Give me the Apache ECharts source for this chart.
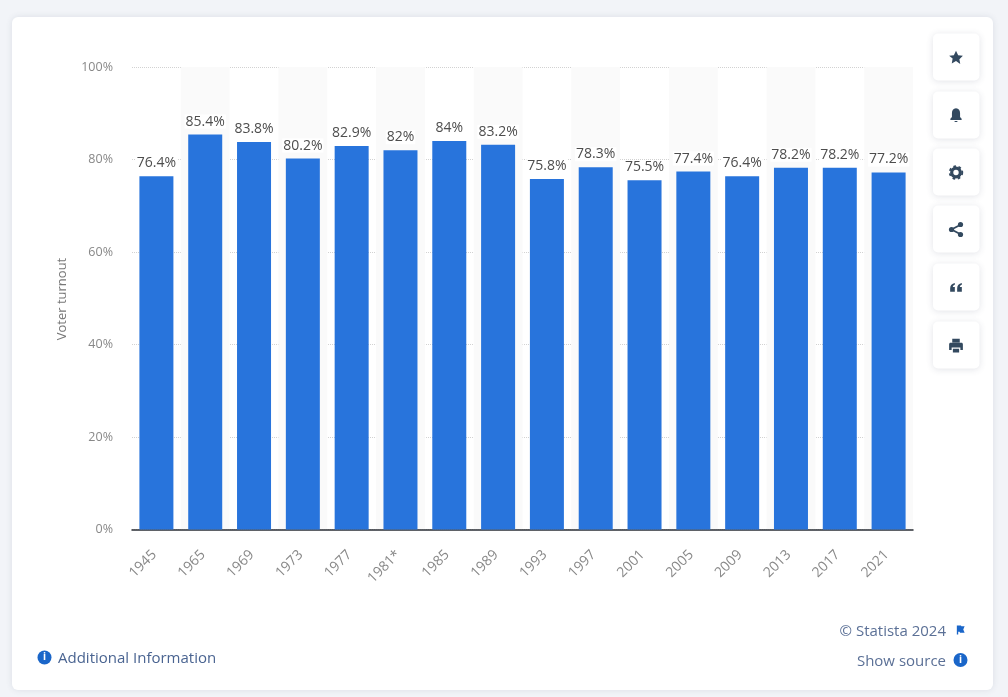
<!DOCTYPE html>
<html>
<head>
<meta charset="utf-8">
<style>html,body{margin:0;padding:0;background:#f2f4f8}#c{width:1008px;height:697px}</style>
<script src="https://cdn.jsdelivr.net/npm/echarts@6/dist/echarts.min.js"></script>
</head>
<body>
<div id="c"></div>
<script>
const years = ['1945','1965','1969','1973','1977','1981*','1985','1989','1993','1997','2001','2005','2009','2013','2017','2021'];
const turnout = [76.4,85.4,83.8,80.2,82.9,82,84,83.2,75.8,78.3,75.5,77.4,76.4,78.2,78.2,77.2];
const yTicks = [0,20,40,60,80,100];
const yTitle = 'Voter turnout';
const iconCentres = [57,115,172,229,287,345];

const ICON = '#33495f', FONT = '"Open Sans","Noto Sans",sans-serif', BLUE = '#1a66c9';
const chart = echarts.init(document.getElementById('c'), null, {renderer:'canvas'});

const shapes = {
  iconStar:'M12 1l3.400 7.200 7.600 1-5.600 5.400 1.400 7.800L12 17.700 5.200 21.400l1.400-7.800L1 9.200l7.600-1z',
  iconBell:'M12 1c4.500 0 6.500 3.500 6.500 8v6l2.500 3v2H3v-2l2.500-3V9C5.500 4.500 7.500 1 12 1zM9.500 21.500h5c0 2.500-5 2.500-5 0z',
  iconQuote:'M10 5C5 6 2 9 2 14v6h8v-8H6.500C6.800 10 8 8.800 10 8.200zM22 5c-5 1-8 4-8 9v6h8v-8h-3.500c.3-2 1.500-3.200 3.500-3.800z',
  iconPrint:'M6 1h12v6H6zM1 10c0-1.500 1-2.500 2-2.500h18c1 0 2 1 2 2.500v9h-4v-4H5v4H1zM7 17h10v6H7z',
  iconFlag:'M4 2h9l1 2h7l-3 7 3 7H11l-1-2H7v6H4z'
};
Object.keys(shapes).forEach(k => echarts.graphic.registerShape(k, echarts.graphic.extendPath(shapes[k], {})));

const back = [
  {type:'rect', silent:true, z:-10, shape:{x:12,y:17,width:981,height:673,r:6},
   style:{fill:'#fff',shadowBlur:6,shadowColor:'rgba(60,70,100,0.12)'}}
];
const btns = iconCentres.map(cy => ({type:'rect', silent:true, z:1,
  shape:{x:933,y:cy-23.5,width:46.5,height:47,r:5},
  style:{fill:'#fff',shadowBlur:7,shadowOffsetY:1,shadowColor:'rgba(50,60,90,0.14)'}}));
const p = (name,cx,cy,w,fill) => ({type:name, silent:true, z:2, x:cx-w/2, y:cy-w/2, scaleX:w/24, scaleY:w/24, style:{fill:fill||ICON}});
const cx = 956;
const icons = [
  p('iconStar',cx,57.500,15),
  p('iconBell',cx,115,15),
  {type:'circle', silent:true, z:2, shape:{cx:cx,cy:172.500,r:4.300}, style:{fill:'none',stroke:ICON,lineWidth:3.200}},
  {type:'circle', silent:true, z:2, shape:{cx:cx,cy:172.500,r:6.300}, style:{fill:'none',stroke:ICON,lineWidth:1.800,lineDash:[2.600,2.650]}},
  {type:'polyline', silent:true, z:2, shape:{points:[[961,224.500],[951.500,229.500],[961,234.500]]}, style:{fill:'none',stroke:ICON,lineWidth:1.800}},
  {type:'circle', silent:true, z:2, shape:{cx:960.500,cy:224.500,r:2.600}, style:{fill:ICON}},
  {type:'circle', silent:true, z:2, shape:{cx:951.500,cy:229.500,r:2.600}, style:{fill:ICON}},
  {type:'circle', silent:true, z:2, shape:{cx:960.500,cy:234.500,r:2.600}, style:{fill:ICON}},
  p('iconQuote',cx,287,14),
  p('iconPrint',cx,345.500,15),
];
const footer = [
  {type:'circle', silent:true, shape:{cx:44.500,cy:657.500,r:7}, style:{fill:BLUE}},
  {type:'text', silent:true, z:3, style:{x:44.500,y:657.500,text:'i',fill:'#fff',font:'bold 10px '+FONT,align:'center',verticalAlign:'middle'}},
  {type:'text', silent:true, style:{x:58,y:659,text:'Additional Information',fill:'#4a6491',font:'15px '+FONT,align:'left',verticalAlign:'middle'}},
  {type:'text', silent:true, style:{x:946,y:631.500,text:'© Statista 2024',fill:'#5b7096',font:'15px '+FONT,align:'right',verticalAlign:'middle'}},
  p('iconFlag',960.500,630,11,BLUE),
  {type:'text', silent:true, style:{x:946,y:661.500,text:'Show source',fill:'#5b7096',font:'15px '+FONT,align:'right',verticalAlign:'middle'}},
  {type:'circle', silent:true, shape:{cx:960.500,cy:660,r:7}, style:{fill:BLUE}},
  {type:'text', silent:true, z:3, style:{x:960.500,y:660,text:'i',fill:'#fff',font:'bold 10px '+FONT,align:'center',verticalAlign:'middle'}},
  {type:'text', silent:true, rotation:Math.PI/2, x:62, y:299, style:{x:0,y:0,text:yTitle,fill:'#777',font:'13px '+FONT,align:'center',verticalAlign:'middle'}}
];

chart.setOption({
  animation:false,
  backgroundColor:'#f2f4f8',
  grid:{left:132,right:95,top:67,bottom:167.5,containLabel:false},
  graphic:{elements:[...back,...btns,...icons,...footer]},
  xAxis:{
    type:'category', data:years, boundaryGap:true,
    axisLine:{show:true,lineStyle:{color:'#2b2f36',width:1.500}},
    axisTick:{show:false},
    axisLabel:{rotate:45,margin:21,padding:[0,3,0,0],interval:0,color:'#888',fontSize:14,fontFamily:FONT},
    splitArea:{show:true,interval:0,areaStyle:{color:['rgba(255,255,255,0)','#fafafa']}},
    splitLine:{show:false}
  },
  yAxis:{
    type:'value', min:0, max:100, interval:yTicks[1]-yTicks[0],
    axisLine:{show:false}, axisTick:{show:false},
    axisLabel:{margin:19,color:'#888',fontSize:12.5,fontFamily:FONT,padding:[1,0,0,0],formatter:'{value}%'},
    splitLine:{show:true,lineStyle:{color:'#d2d2d2',type:'dotted',width:1}}
  },
  series:[{
    type:'bar', data:turnout, barWidth:34, z:3,
    itemStyle:{color:'#2874dc'},
    label:{show:true,position:'top',distance:6,color:'#4d4d4d',fontSize:14,fontWeight:500,fontFamily:FONT,
      backgroundColor:'#fff',padding:[0,1],formatter:o=>o.value+'%'}
  }]
});
</script>
</body>
</html>
